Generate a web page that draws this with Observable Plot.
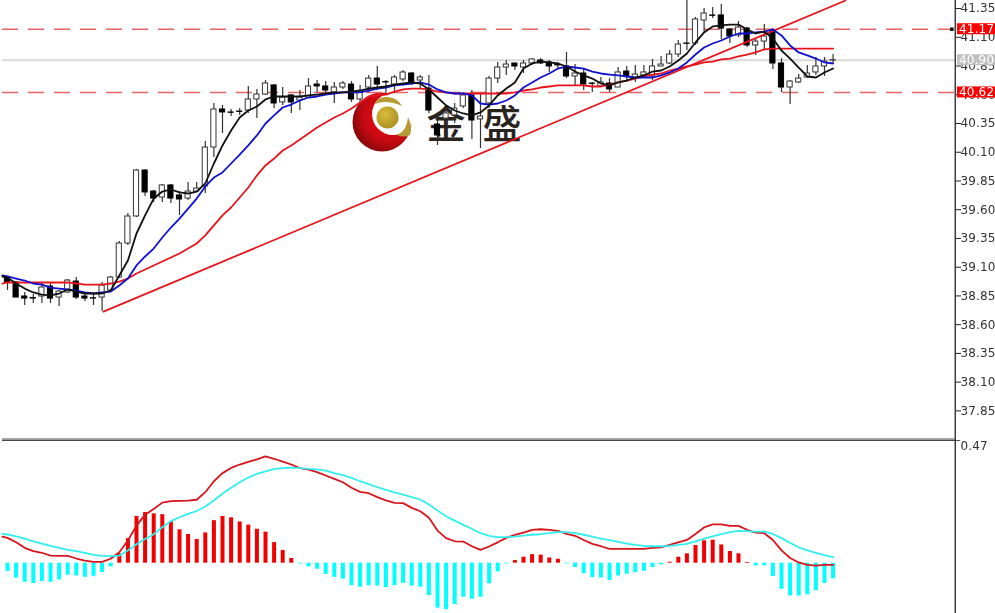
<!DOCTYPE html>
<html><head><meta charset="utf-8">
<script src="https://cdn.jsdelivr.net/npm/d3@7"></script>
<script src="https://cdn.jsdelivr.net/npm/@observablehq/plot@0.6"></script>
<style>
html,body{margin:0;padding:0;background:#fff}
#stage{position:relative;width:995px;height:613px;overflow:hidden}
#logo{position:absolute;left:0;top:0;z-index:0}
#charts{position:absolute;left:0;top:0;z-index:1;filter:blur(0.3px)}
#charts svg{display:block}
</style></head><body>
<div id="stage">
<svg id="logo" width="995" height="613" viewBox="0 0 995 613">
<defs><radialGradient id="rg" cx="0.62" cy="0.4" r="0.72"><stop offset="0" stop-color="#f00a12"/><stop offset="0.6" stop-color="#c70a12"/><stop offset="1" stop-color="#6f0508"/></radialGradient>
<radialGradient id="gg" cx="0.4" cy="0.35" r="0.75"><stop offset="0" stop-color="#d8bd3e"/><stop offset="1" stop-color="#a88a1c"/></radialGradient></defs>
<circle cx="382" cy="122" r="29.5" fill="url(#rg)"/>
<circle cx="393" cy="114" r="21" fill="#fff"/>
<circle cx="387.5" cy="117.5" r="11" fill="url(#gg)"/>
<path d="M375 104 Q378 96 388 97 Q398 98 402 106 Q393 102 385 102 Q379 102 375 104Z" fill="#b89a35"/>
<path d="M397 135 Q407 131 408 117 Q413 127 410 135 Q404 138 397 135Z" fill="#b89a35"/>
<text x="446" y="138" text-anchor="middle" font-family="Noto Sans CJK SC" font-weight="500" font-size="39" fill="#2a2320">金</text>
<text x="502" y="138" text-anchor="middle" font-family="Noto Sans CJK SC" font-weight="500" font-size="39" fill="#2a2320">盛</text>
</svg>
<div id="charts"></div>
</div>
<script>
const opens=[39.010,38.967,38.845,38.832,38.845,38.932,38.836,38.880,38.975,38.845,38.830,38.836,38.897,39.010,39.306,39.541,39.941,39.758,39.706,39.811,39.724,39.697,39.758,39.802,40.141,40.472,40.446,40.454,40.463,40.559,40.602,40.681,40.533,40.594,40.550,40.576,40.689,40.672,40.620,40.663,40.689,40.559,40.663,40.741,40.710,40.689,40.733,40.785,40.724,40.654,40.341,40.393,40.420,40.498,40.594,40.385,40.524,40.741,40.837,40.872,40.837,40.872,40.898,40.881,40.863,40.846,40.759,40.785,40.698,40.672,40.698,40.663,40.802,40.741,40.768,40.759,40.846,40.872,40.950,41.046,41.046,41.246,41.290,41.290,41.168,41.116,41.176,41.029,41.063,41.159,40.872,40.663,40.707,40.750,40.794,40.846,40.898];
const closes=[38.967,38.836,38.827,38.827,38.923,38.827,38.888,38.984,38.836,38.827,38.827,38.941,39.010,39.306,39.541,39.941,39.750,39.697,39.811,39.697,39.689,39.758,39.784,40.141,40.472,40.446,40.443,40.451,40.559,40.602,40.698,40.524,40.576,40.533,40.576,40.672,40.672,40.637,40.663,40.698,40.559,40.628,40.741,40.689,40.707,40.750,40.794,40.707,40.750,40.463,40.246,40.437,40.480,40.594,40.376,40.411,40.741,40.837,40.863,40.846,40.872,40.907,40.872,40.846,40.855,40.759,40.785,40.689,40.695,40.707,40.646,40.794,40.759,40.776,40.794,40.846,40.863,40.950,41.037,41.043,41.255,41.307,41.287,41.176,41.107,41.185,41.029,41.063,41.107,40.872,40.663,40.715,40.741,40.785,40.846,40.889,40.901];
const highs=[39.019,38.975,38.880,38.862,38.958,38.958,38.897,38.993,39.010,38.880,38.871,38.967,39.019,39.323,39.567,39.950,39.950,39.767,39.819,39.819,39.758,39.837,39.837,40.193,40.524,40.507,40.472,40.480,40.672,40.646,40.724,40.689,40.663,40.602,40.637,40.741,40.724,40.715,40.707,40.715,40.715,40.681,40.768,40.846,40.724,40.768,40.811,40.794,40.768,40.768,40.420,40.480,40.524,40.611,40.637,40.611,40.759,40.881,40.898,40.872,40.898,40.915,40.915,40.898,40.881,40.968,40.863,40.828,40.707,40.750,40.741,40.837,40.846,40.855,40.855,40.907,40.933,40.985,41.072,41.420,41.272,41.350,41.359,41.385,41.176,41.237,41.185,41.081,41.211,41.176,40.915,40.724,40.776,40.855,40.924,40.924,40.950];
const lows=[38.897,38.836,38.767,38.784,38.784,38.784,38.758,38.871,38.819,38.801,38.767,38.714,38.888,39.001,39.289,39.532,39.715,39.663,39.663,39.654,39.550,39.680,39.750,39.741,40.054,40.263,40.411,40.420,40.437,40.393,40.594,40.480,40.507,40.437,40.463,40.567,40.620,40.611,40.524,40.646,40.533,40.533,40.620,40.637,40.611,40.611,40.715,40.681,40.654,40.437,40.159,40.333,40.350,40.480,40.211,40.132,40.480,40.698,40.768,40.811,40.785,40.855,40.863,40.794,40.820,40.741,40.681,40.637,40.620,40.663,40.620,40.663,40.707,40.707,40.750,40.724,40.846,40.863,40.924,40.985,41.029,41.133,41.263,41.081,41.046,41.098,41.011,40.942,40.985,40.820,40.620,40.515,40.698,40.741,40.768,40.759,40.872];
const maFast=[39.019,39.010,38.958,38.914,38.880,38.862,38.854,38.871,38.906,38.888,38.871,38.871,38.871,38.897,39.028,39.158,39.393,39.550,39.697,39.758,39.776,39.750,39.741,39.758,39.828,40.002,40.159,40.289,40.402,40.463,40.498,40.559,40.585,40.585,40.585,40.585,40.594,40.602,40.611,40.620,40.620,40.628,40.637,40.654,40.663,40.672,40.689,40.698,40.707,40.698,40.646,40.576,40.507,40.463,40.437,40.420,40.446,40.507,40.594,40.654,40.707,40.828,40.872,40.889,40.881,40.872,40.846,40.802,40.768,40.741,40.698,40.681,40.707,40.724,40.750,40.768,40.802,40.811,40.846,40.898,40.959,41.055,41.142,41.194,41.203,41.211,41.211,41.168,41.133,41.150,41.089,40.985,40.915,40.837,40.759,40.750,40.794,40.828];
const maMid=[39.028,39.019,39.001,38.984,38.958,38.949,38.923,38.914,38.906,38.897,38.880,38.871,38.880,38.888,38.941,39.001,39.115,39.193,39.262,39.358,39.445,39.523,39.610,39.697,39.802,39.880,39.924,40.002,40.080,40.159,40.246,40.350,40.420,40.489,40.515,40.550,40.576,40.585,40.602,40.611,40.620,40.620,40.620,40.637,40.654,40.663,40.681,40.689,40.698,40.707,40.689,40.646,40.620,40.611,40.611,40.594,40.524,40.515,40.524,40.550,40.594,40.663,40.707,40.750,40.785,40.828,40.846,40.837,40.828,40.802,40.785,40.776,40.768,40.759,40.750,40.750,40.750,40.768,40.794,40.828,40.881,40.950,41.011,41.046,41.072,41.107,41.133,41.133,41.142,41.150,41.168,41.116,41.029,40.968,40.942,40.915,40.881,40.872];
const maSlow=[38.958,38.967,38.967,38.967,38.967,38.967,38.967,38.967,38.967,38.958,38.949,38.949,38.949,38.958,38.975,39.001,39.045,39.080,39.115,39.149,39.184,39.219,39.262,39.306,39.376,39.463,39.550,39.619,39.706,39.793,39.898,39.985,40.045,40.115,40.159,40.211,40.263,40.315,40.359,40.402,40.437,40.480,40.533,40.585,40.594,40.602,40.628,40.646,40.654,40.654,40.646,40.628,40.620,40.611,40.611,40.611,40.611,40.611,40.611,40.611,40.620,40.637,40.646,40.663,40.672,40.681,40.681,40.681,40.681,40.672,40.672,40.689,40.707,40.724,40.741,40.759,40.776,40.785,40.811,40.828,40.846,40.863,40.881,40.889,40.907,40.915,40.933,40.950,40.968,40.994,41.002,41.002,41.002,41.002,41.002,41.002,41.002,41.002];
const trendIdx=[11.16,97.44];
const trendVal=[38.714,41.42];
const priceTicks=[41.35,41.10,40.85,40.60,40.35,40.10,39.85,39.60,39.35,39.10,38.85,38.60,38.35,38.10,37.85];
const dashedLevels=[41.17,40.62];
const currentLevel=[40.90];
const macdHist=[-0.032,-0.057,-0.073,-0.078,-0.070,-0.073,-0.064,-0.046,-0.049,-0.054,-0.050,-0.036,-0.014,0.036,0.094,0.179,0.194,0.189,0.186,0.158,0.128,0.110,0.091,0.116,0.163,0.179,0.174,0.158,0.146,0.130,0.119,0.079,0.049,0.018,-0.003,-0.014,-0.023,-0.043,-0.054,-0.061,-0.086,-0.092,-0.086,-0.088,-0.093,-0.086,-0.077,-0.088,-0.092,-0.124,-0.172,-0.178,-0.158,-0.130,-0.138,-0.130,-0.079,-0.033,-0.003,0.010,0.023,0.033,0.031,0.020,0.015,-0.003,-0.017,-0.040,-0.055,-0.057,-0.066,-0.049,-0.042,-0.036,-0.031,-0.017,-0.006,0.004,0.023,0.036,0.068,0.086,0.088,0.070,0.045,0.036,0.003,-0.011,-0.010,-0.051,-0.100,-0.125,-0.126,-0.121,-0.105,-0.078,-0.060];
const macdLine=[0.102,0.097,0.080,0.059,0.046,0.040,0.029,0.028,0.028,0.018,0.010,0.005,0.005,0.017,0.042,0.087,0.144,0.186,0.208,0.232,0.238,0.239,0.240,0.243,0.272,0.314,0.345,0.365,0.378,0.388,0.398,0.409,0.400,0.389,0.378,0.364,0.358,0.349,0.336,0.323,0.310,0.289,0.273,0.268,0.253,0.241,0.231,0.230,0.212,0.199,0.174,0.125,0.096,0.084,0.083,0.065,0.051,0.064,0.080,0.097,0.109,0.117,0.128,0.130,0.128,0.124,0.112,0.105,0.089,0.074,0.065,0.055,0.055,0.055,0.055,0.055,0.059,0.061,0.070,0.080,0.089,0.112,0.137,0.149,0.149,0.143,0.143,0.128,0.117,0.115,0.089,0.049,0.020,0.003,-0.006,-0.009,-0.006,-0.006];
const signalLine=[0.112,0.110,0.103,0.094,0.084,0.075,0.066,0.059,0.051,0.046,0.040,0.032,0.028,0.027,0.029,0.049,0.073,0.093,0.111,0.138,0.161,0.176,0.189,0.200,0.217,0.240,0.266,0.289,0.310,0.328,0.342,0.352,0.360,0.364,0.366,0.364,0.361,0.359,0.355,0.345,0.337,0.327,0.314,0.303,0.291,0.281,0.271,0.263,0.253,0.244,0.225,0.202,0.180,0.163,0.147,0.132,0.115,0.105,0.100,0.100,0.102,0.106,0.109,0.111,0.115,0.119,0.119,0.115,0.109,0.102,0.094,0.088,0.082,0.075,0.070,0.066,0.065,0.065,0.066,0.070,0.074,0.084,0.094,0.103,0.111,0.119,0.124,0.123,0.121,0.121,0.112,0.096,0.078,0.061,0.049,0.040,0.031,0.023];

const FONT='"DejaVu Sans",sans-serif';
const barIdx=opens.map((_,i)=>i);
const lineIdx=maFast.map((_,i)=>i===0?-0.6:i-1);
const xDomain=[-0.814,110.233];
const xLeft=-0.58,xRight=110.2,xEnd=114.9,xBox=110.47,xText=110.65;
const candles=barIdx.map(i=>({i,o:opens[i],c:closes[i],h:highs[i],l:lows[i]}));
const lineOf=a=>a.map((v,k)=>({i:lineIdx[k],v}));
const boxes=[{v:41.17,fill:"#ff0000"},{v:40.90,fill:"#c0c0c0"},{v:40.62,fill:"#ff0000"}];
const boxHalf=0.048;
const chartStyle={background:"transparent",fontFamily:FONT,fontSize:"12px",letterSpacing:"0.15px",overflow:"visible"};

const upperChart=Plot.plot({
  width:995,height:439,margin:0,marginRight:40,
  style:chartStyle,
  x:{domain:xDomain,axis:null},
  y:{domain:[37.601,41.42],axis:null},
  marks:[
    Plot.ruleY(currentLevel,{x1:xLeft,x2:xRight,stroke:"#d8d8d8",strokeWidth:2}),
    Plot.ruleY(dashedLevels,{x1:xLeft,x2:xRight,stroke:"#e86464",strokeWidth:1.5,strokeDasharray:"16,10"}),
    Plot.ruleX(candles,{x:"i",y1:"l",y2:"h",stroke:"#333",strokeWidth:1.2}),
    Plot.rectY(candles,{x1:d=>d.i-0.3,x2:d=>d.i+0.3,y1:"o",y2:"c",fill:d=>d.c>=d.o?"#fff":"#000",stroke:d=>d.c>=d.o?"#333":"#000",strokeWidth:1}),
    Plot.line(trendIdx.map((i,k)=>({i,v:trendVal[k]})),{x:"i",y:"v",stroke:"#e8141c",strokeWidth:1.8}),
    Plot.line(lineOf(maSlow),{x:"i",y:"v",stroke:"#e8141c",strokeWidth:1.8}),
    Plot.line(lineOf(maMid),{x:"i",y:"v",stroke:"#1010d0",strokeWidth:1.8}),
    Plot.line(lineOf(maFast),{x:"i",y:"v",stroke:"#111",strokeWidth:1.8}),
    Plot.ruleX([xRight],{stroke:"#111",strokeWidth:1.2}),
    Plot.ruleY([37.605],{x1:xLeft,x2:xRight,stroke:"#444",strokeWidth:1}),
    Plot.axisY(priceTicks,{anchor:"right",tickFormat:d=>d.toFixed(2),tickSize:5,tickPadding:0,stroke:"#222",fill:"#333",fontSize:12}),
    Plot.dot([41.17],{x:[109.8],y:d=>d,symbol:"square",r:2,fill:"#111"}),
    Plot.rect(boxes,{x1:xBox,x2:xEnd,y1:d=>d.v-boxHalf,y2:d=>d.v+boxHalf,fill:"fill"}),
    Plot.text(boxes,{x:xText,y:"v",text:d=>d.v.toFixed(2),fill:"#fff",textAnchor:"start",fontSize:12})
  ]
});
const lowerChart=Plot.plot({
  width:995,height:174,margin:0,marginRight:40,
  style:chartStyle,
  x:{domain:xDomain,axis:null},
  y:{domain:[-0.1926,0.4738],axis:null},
  marks:[
    Plot.ruleY([0.470],{x1:xLeft,x2:xRight+0.6,stroke:"#444",strokeWidth:1}),
    Plot.ruleX([xRight],{stroke:"#111",strokeWidth:1.2}),
    Plot.ruleX(barIdx.map(i=>({i,v:macdHist[i]})),{x:"i",y1:0,y2:"v",stroke:d=>d.v>=0?"#f00000":"#00ffff",strokeWidth:4}),
    Plot.line(lineOf(macdLine),{x:"i",y:"v",stroke:"#d8141c",strokeWidth:1.8}),
    Plot.line(lineOf(signalLine),{x:"i",y:"v",stroke:"#33eeee",strokeWidth:1.8}),
    Plot.text([0.47],{x:[110.81],y:d=>d,dy:6,text:d=>d.toFixed(2),fill:"#333",textAnchor:"start",fontSize:12})
  ]
});
document.getElementById("charts").append(upperChart,lowerChart);
</script>
</body></html>
